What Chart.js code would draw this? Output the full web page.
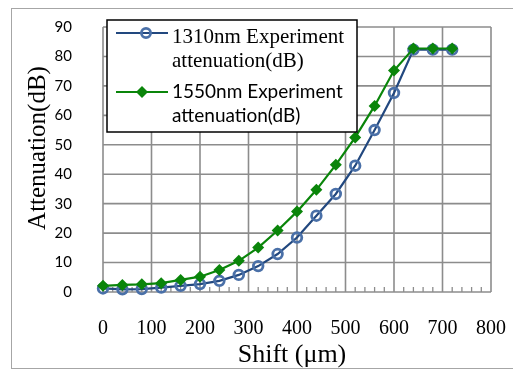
<!DOCTYPE html>
<html><head><meta charset="utf-8">
<script src="https://cdn.jsdelivr.net/npm/chart.js@4.4.0/dist/chart.umd.min.js"></script>
<style>
html,body{margin:0;padding:0;background:#fff;}
#wrap{position:relative;width:513px;height:371px;overflow:hidden;}
#frame{position:absolute;left:11px;top:8px;width:520px;height:361px;border:1px solid #a6a6a6;box-sizing:border-box;pointer-events:none;}
canvas{position:absolute;left:0;top:0;}
</style></head>
<body><div id="wrap"><canvas id="c" width="513" height="371"></canvas><div id="frame"></div></div>
<script>
const shift = [0,40,80,120,160,200,240,280,320,360,400,440,480,520,560,600,640,680,720];
const att1310 = [1.2,0.9,1.0,1.5,2.1,2.7,3.8,5.8,8.8,12.9,18.5,25.9,33.3,42.9,55.0,67.6,82.3,82.3,82.3];
const att1550 = [2.1,2.4,2.6,3.0,4.1,5.2,7.5,10.6,15.1,20.9,27.3,34.7,43.2,52.5,63.2,75.2,82.7,82.7,82.7];
const label1310 = ["1310nm Experiment","attenuation(dB)"];
const label1550 = ["1550nm Experiment","attenuation(dB)"];
const xTicks = [0,100,200,300,400,500,600,700,800];
const yTicks = [0,10,20,30,40,50,60,70,80,90];
const xTitle = "Shift (\u03bcm)";
const yTitle = "Attenuation(dB)";

const GRID = '#8c8c8c';
const BLUE_LINE = '#22487f', BLUE_MK = '#4a70a8';
const GREEN = '#0a850a';

const extras = {
  id:'extras',
  beforeDatasetsDraw(chart){
    const ctx = chart.ctx, xs = chart.scales.x, ys = chart.scales.y, a = chart.chartArea;
    ctx.save();
    ctx.strokeStyle = GRID; ctx.lineWidth = 1.6;
    xTicks.forEach(v=>{
      const px = xs.getPixelForValue(v);
      ctx.beginPath(); ctx.moveTo(px, a.top); ctx.lineTo(px, a.bottom); ctx.stroke();
    });
    yTicks.forEach(v=>{
      const py = ys.getPixelForValue(v);
      ctx.beginPath(); ctx.moveTo(a.left, py); ctx.lineTo(a.right, py); ctx.stroke();
    });
    ctx.lineWidth = 1.3;
    for (let v = 0; v <= 800; v += 20) {
      if (v % 100 === 0) continue;
      const px = xs.getPixelForValue(v);
      ctx.beginPath(); ctx.moveTo(px, a.bottom); ctx.lineTo(px, a.bottom - 5); ctx.stroke();
    }
    ctx.restore();
  },
  afterDatasetsDraw(chart){
    const ctx = chart.ctx;
    ctx.save();
    // legend box
    ctx.fillStyle = '#fff';
    ctx.fillRect(107, 20, 250, 112);
    ctx.strokeStyle = '#000'; ctx.lineWidth = 1.5;
    ctx.strokeRect(107, 20, 250, 112);
    // entry 1
    ctx.strokeStyle = BLUE_LINE; ctx.lineWidth = 2.2;
    ctx.beginPath(); ctx.moveTo(116, 33); ctx.lineTo(168, 33); ctx.stroke();
    ctx.strokeStyle = BLUE_MK; ctx.lineWidth = 2.8;
    ctx.beginPath(); ctx.arc(146, 33, 4.6, 0, Math.PI*2); ctx.stroke();
    ctx.fillStyle = '#000'; ctx.textAlign = 'left'; ctx.textBaseline = 'alphabetic';
    ctx.font = '21px "Liberation Serif", serif';
    ctx.fillText(label1310[0], 172, 43);
    ctx.fillText(label1310[1], 172, 67);
    // entry 2
    ctx.strokeStyle = GREEN; ctx.lineWidth = 2.2;
    ctx.beginPath(); ctx.moveTo(116, 92); ctx.lineTo(168, 92); ctx.stroke();
    ctx.fillStyle = GREEN;
    ctx.beginPath(); ctx.moveTo(142, 86); ctx.lineTo(148, 92); ctx.lineTo(142, 98); ctx.lineTo(136, 92); ctx.closePath(); ctx.fill();
    ctx.fillStyle = '#000';
    ctx.font = '19px Lato, sans-serif';
    ctx.fillText(label1550[0], 172, 98);
    ctx.fillText(label1550[1], 172, 122);
    // axis titles
    ctx.font = '26px "Liberation Serif", serif';
    ctx.textAlign = 'center';
    ctx.fillText(xTitle, 292, 362);
    ctx.translate(45, 148); ctx.rotate(-Math.PI/2);
    ctx.font = '25px "Liberation Serif", serif';
    ctx.fillText(yTitle, 0, 0);
    ctx.restore();
  }
};

new Chart(document.getElementById('c'), {
  type:'line',
  data:{
    datasets:[
      {label:label1310.join(' '), data:shift.map((x,i)=>({x, y:att1310[i]})), order:1, clip:false,
       borderColor:BLUE_LINE, borderWidth:2.2, pointStyle:'circle', pointRadius:4.8,
       pointBorderWidth:2.8, pointBorderColor:BLUE_MK, pointBackgroundColor:'rgba(0,0,0,0)', tension:0},
      {label:label1550.join(' '), data:shift.map((x,i)=>({x, y:att1550[i]})), order:0, clip:false,
       borderColor:GREEN, borderWidth:2.2, pointStyle:'rectRot', pointRadius:6,
       pointBorderWidth:0, pointBackgroundColor:GREEN, tension:0}
    ]
  },
  options:{
    responsive:false, animation:false, devicePixelRatio:1,
    layout:{padding:{left:0, top:27, right:22, bottom:0}},
    plugins:{legend:{display:false}, tooltip:{enabled:false}},
    scales:{
      x:{type:'linear', min:0, max:800,
        afterBuildTicks(s){ s.ticks = xTicks.map(v=>({value:v})); },
        afterFit(s){ s.height = 79; s.paddingLeft = 0; s.paddingRight = 0; },
        grid:{display:false, drawTicks:false},
        border:{display:false},
        ticks:{padding:25, color:'#000', font:{family:'"Liberation Serif", serif', size:20}, maxRotation:0, autoSkip:false}
      },
      y:{type:'linear', min:0, max:90,
        afterBuildTicks(s){ s.ticks = yTicks.map(v=>({value:v})); },
        afterFit(s){ s.width = 103; s.paddingTop = 0; s.paddingBottom = 0; },
        grid:{display:false, drawTicks:false},
        border:{display:false},
        ticks:{padding:31, color:'#000', font:{family:'Lato, sans-serif', size:15}, autoSkip:false}
      }
    }
  },
  plugins:[extras]
});
</script></body></html>
